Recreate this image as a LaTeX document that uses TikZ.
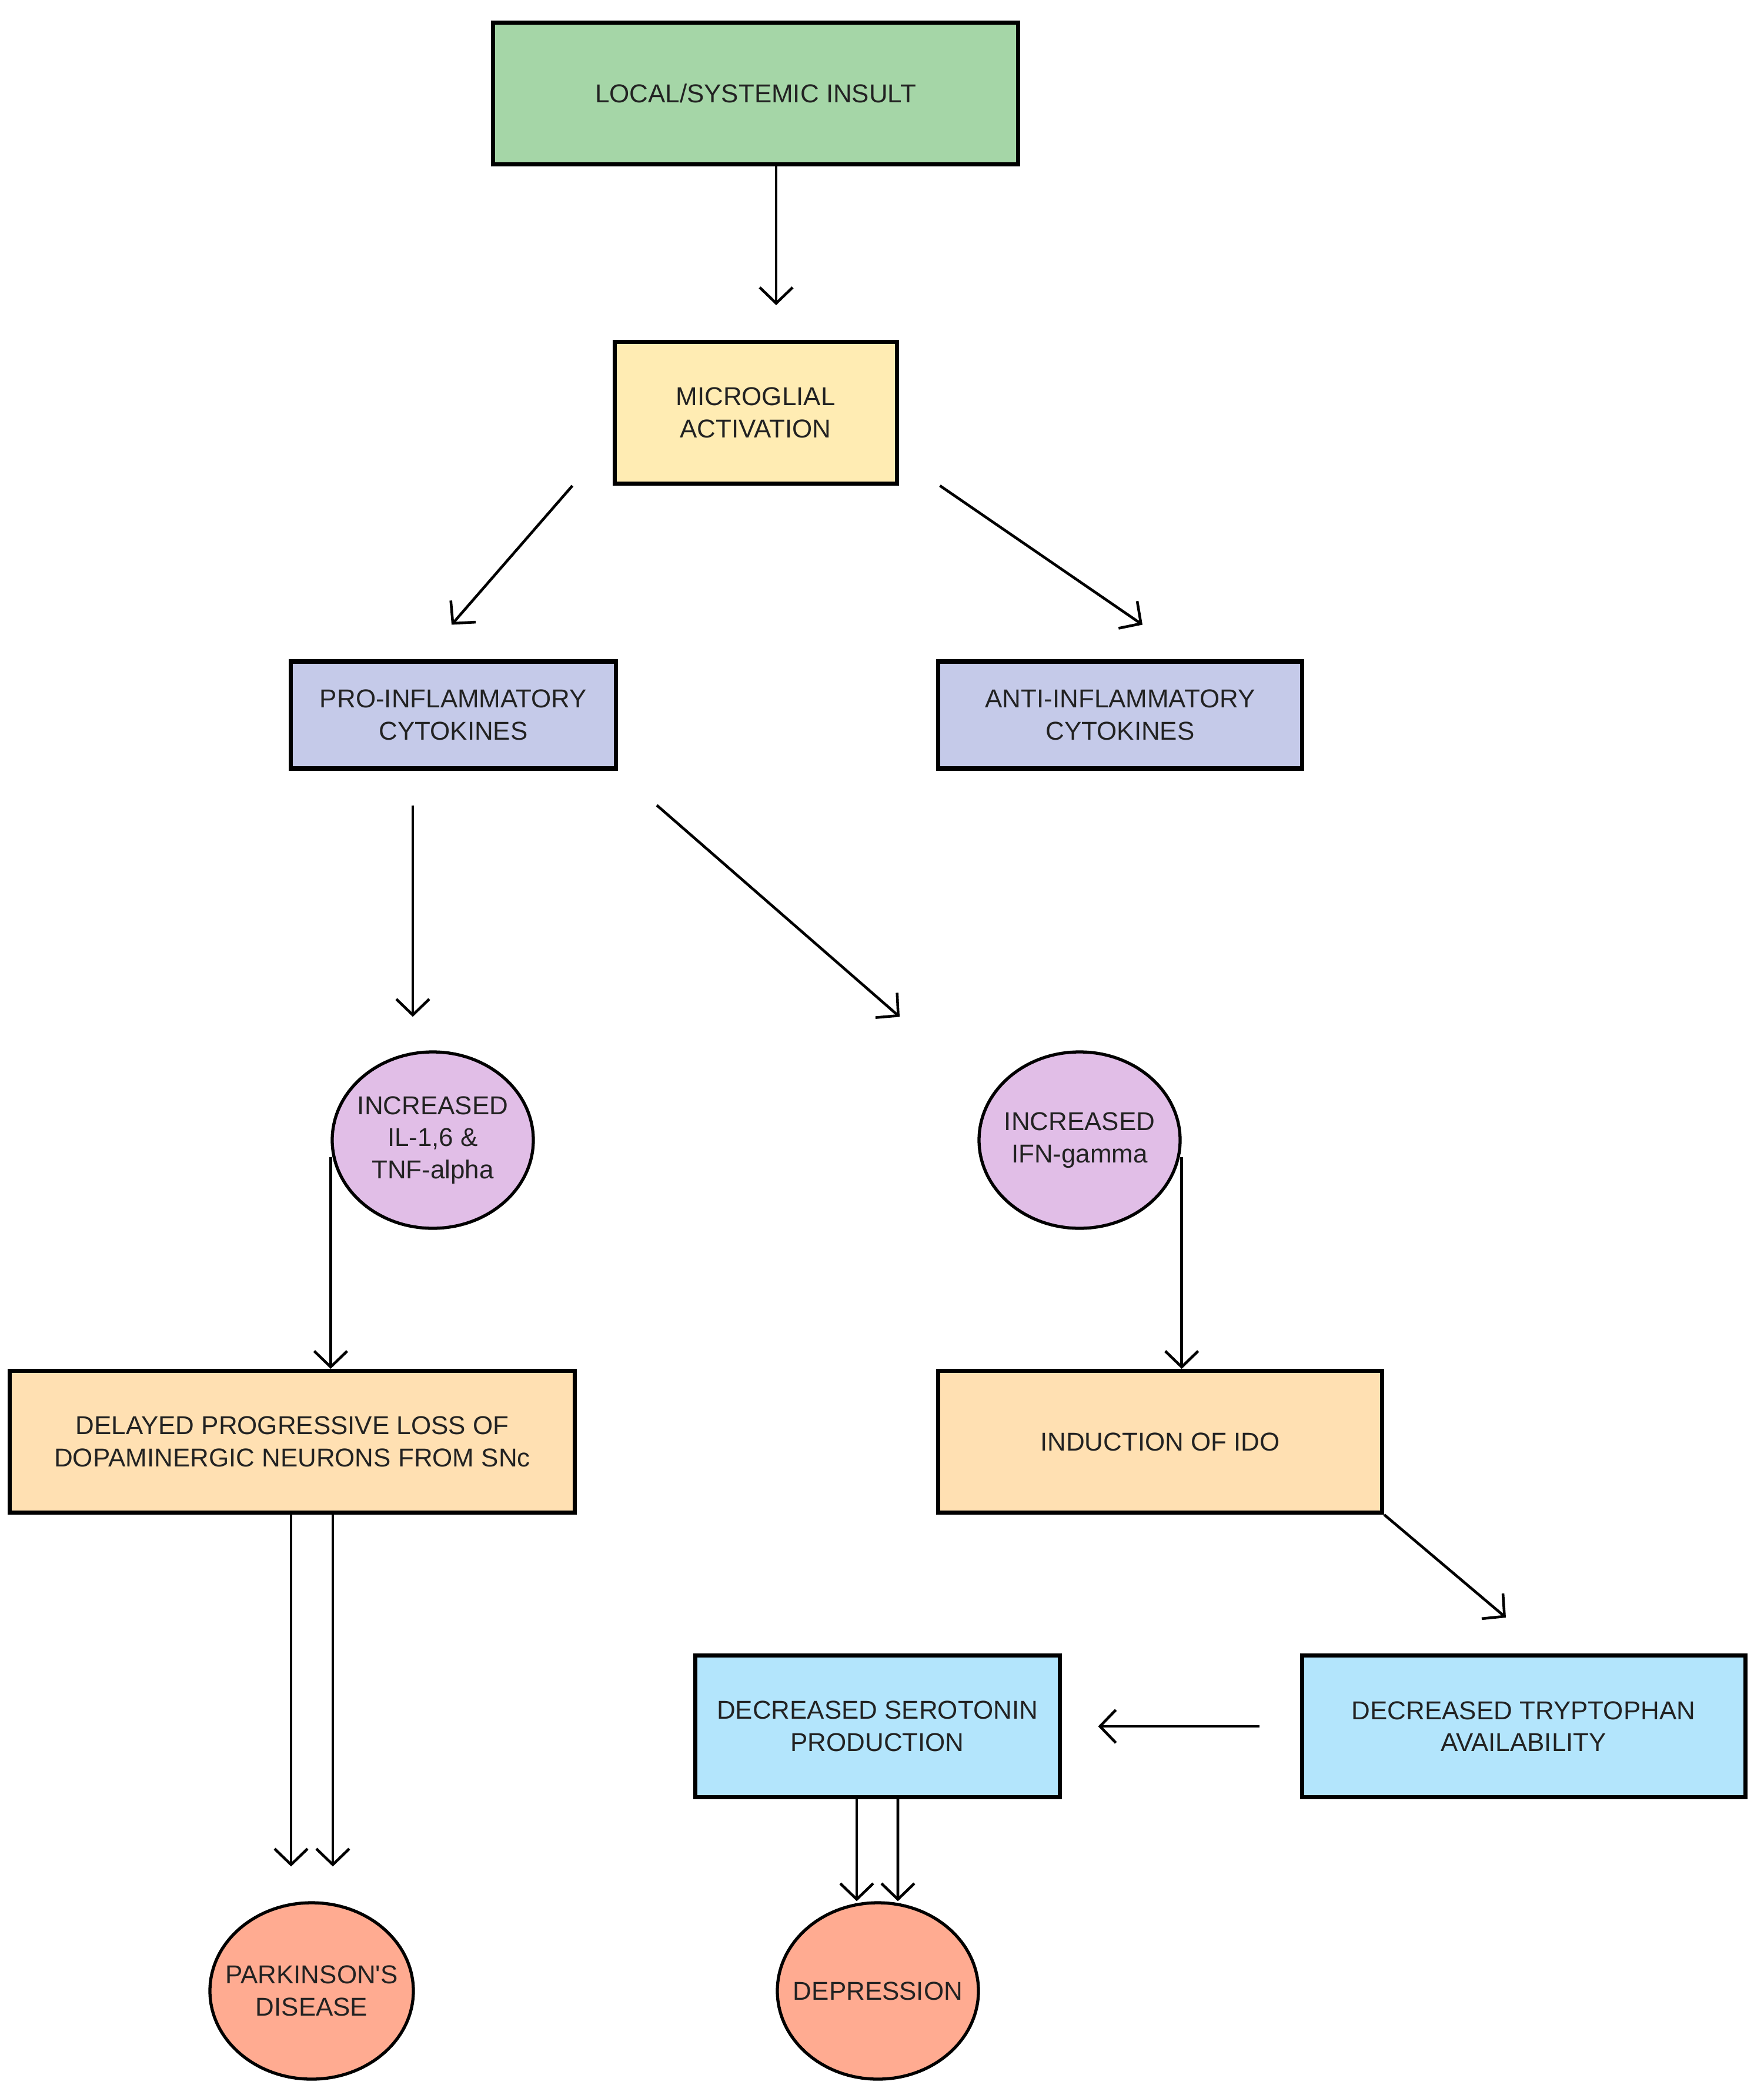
\documentclass[tikz,border=0pt]{standalone}
\usepackage{fontspec}
\setmainfont{Liberation Sans}
\usepackage{tikz}
\usetikzlibrary{calc}
\usetikzlibrary{shapes}
\usetikzlibrary{arrows.meta}
\definecolor{insultgreen}{HTML}{A5D6A7}
\definecolor{microyellow}{HTML}{FFECB3}
\definecolor{cytolav}{HTML}{C5CAE9}
\definecolor{cytopink}{HTML}{E1BEE7}
\definecolor{losspeach}{HTML}{FFE0B2}
\definecolor{serblue}{HTML}{B3E5FC}
\definecolor{outsalmon}{HTML}{FFAB91}
\definecolor{textgray}{HTML}{222222}
\tikzset{
  box/.style={draw=black, line width=2pt, rectangle, align=center, inner sep=0pt,
    text=textgray, font=\fontsize{12.5}{15.5}\selectfont},
  blob/.style={draw=black, line width=1.5pt, ellipse, align=center, inner sep=-1cm,
    minimum width=3.42cm, minimum height=3cm, text=textgray, font=\fontsize{12.5}{15.5}\selectfont},
  arr/.style={line width=1.3pt, -{Straight Barb[length=0.27cm,width=0.56cm,line width=1.3pt]}}
}
\newcommand{\mkbox}[7]{\node[box, fill=#2, minimum width=#3cm, minimum height=#4cm] (#1) at (#5,#6) {#7};}

\begin{document}
\begin{tikzpicture}
    \useasboundingbox (0,0) rectangle (30,-35.63);
    % boxes
    \mkbox{insult}{insultgreen}{8.93}{2.41}{12.85}{-1.59}{LOCAL/SYSTEMIC INSULT}
    \mkbox{micro}{microyellow}{4.80}{2.41}{12.85}{-7.02}{MICROGLIAL\\ACTIVATION}
    \mkbox{pro}{cytolav}{5.53}{1.82}{7.71}{-12.16}{PRO-INFLAMMATORY\\CYTOKINES}
    \mkbox{anti}{cytolav}{6.19}{1.82}{19.05}{-12.16}{ANTI-INFLAMMATORY\\CYTOKINES}
    \mkbox{delayed}{losspeach}{9.61}{2.41}{4.97}{-24.52}{DELAYED PROGRESSIVE LOSS OF\\DOPAMINERGIC NEURONS FROM SNc}
    \mkbox{ido}{losspeach}{7.55}{2.41}{19.73}{-24.52}{INDUCTION OF IDO}
    \mkbox{trypt}{serblue}{7.54}{2.41}{25.91}{-29.36}{DECREASED TRYPTOPHAN\\AVAILABILITY}
    \mkbox{sero}{serblue}{6.20}{2.41}{14.92}{-29.36}{DECREASED SEROTONIN\\PRODUCTION}
    % ellipses
    \node[blob, fill=cytopink] (il) at (7.36,-19.39) {INCREASED\\IL-1,6 \&\\TNF-alpha};
    \node[blob, fill=cytopink] (ifn) at (18.36,-19.39) {INCREASED\\IFN-gamma};
    \node[blob, fill=outsalmon, minimum width=3.46cm] (park) at (5.30,-33.86) {PARKINSON\textquotesingle S\\DISEASE};
    \node[blob, fill=outsalmon] (dep) at (14.93,-33.86) {DEPRESSION};
    % arrows
    \draw[arr] ($(insult.south)+(0.35,0)$) -- ($(micro.north)+(0.35,0.59)$);
    \draw[arr] ($(micro.south west)+(-0.68,0)$) -- ($(pro.north)+(-0.03,0.59)$);
    \draw[arr] ($(micro.south east)+(0.70,0)$) -- ($(anti.north)+(0.38,0.59)$);
    \draw[arr] ($(pro.south)+(-0.69,-0.59)$) -- ($(il.north)+(-0.34,0.57)$);
    \draw[arr] ($(pro.south east)+(0.66,-0.59)$) -- ($(ifn.north)+(-3.06,0.57)$);
    \coordinate (ilfoot) at ($(il.west)+(0,-0.29)$);
    \coordinate (ifnfoot) at ($(ifn.east)+(0,-0.29)$);
    \draw[arr] (ilfoot) -- (ilfoot |- delayed.north);
    \draw[arr] (ifnfoot) -- (ifnfoot |- ido.north);
    \draw[arr] ($(delayed.south)+(-0.02,0)$) -- ($(park.north)+(-0.35,0.59)$);
    \draw[arr] ($(delayed.south)+(0.69,0)$) -- ($(park.north)+(0.36,0.59)$);
    \draw[arr] (ido.south east) -- ($(trypt.north)+(-0.30,0.61)$);
    \draw[arr] ($(trypt.west)+(-0.69,0)$) -- ($(sero.east)+(0.62,0)$);
    \draw[arr] ($(sero.south)+(-0.35,0)$) -- ($(dep.north)+(-0.36,0)$);
    \draw[arr] ($(sero.south)+(0.35,0)$) -- ($(dep.north)+(0.34,0)$);
\end{tikzpicture}
\end{document}
